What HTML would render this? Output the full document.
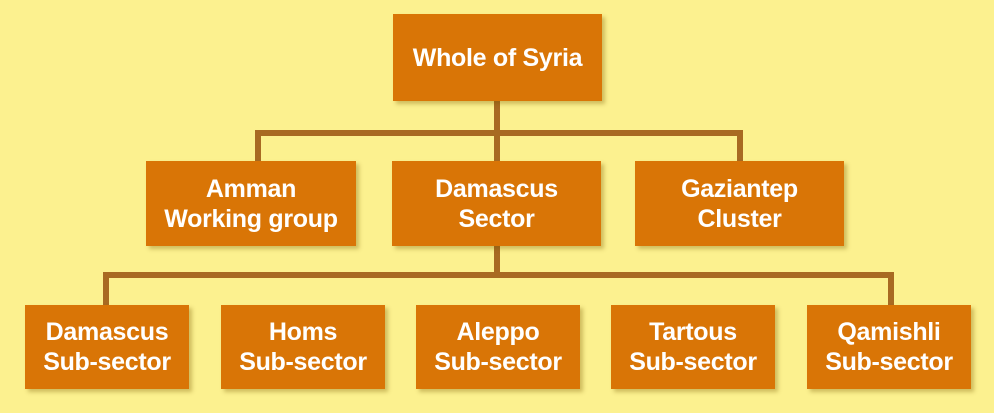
<!DOCTYPE html>
<html><head><style>
body{margin:0;width:994px;height:413px;background:#fcf18f;position:relative;overflow:hidden;font-family:"Liberation Sans",sans-serif}
.b{position:absolute;background:#d97506;color:#fff;font-weight:bold;font-size:25px;line-height:30px;display:flex;align-items:center;justify-content:center;text-align:center;box-shadow:3px 3px 4px rgba(120,90,0,.35);letter-spacing:-0.3px}
.b span{position:relative;top:0px}
.l{position:absolute;background:#a86a22}
</style></head><body>
<div class="l" style="left:494px;top:100px;width:6px;height:62px"></div>
<div class="l" style="left:255px;top:130px;width:488px;height:6px"></div>
<div class="l" style="left:255px;top:130px;width:6px;height:32px"></div>
<div class="l" style="left:737px;top:130px;width:6px;height:32px"></div>
<div class="l" style="left:494px;top:245px;width:6px;height:32px"></div>
<div class="l" style="left:103px;top:272px;width:791px;height:6px"></div>
<div class="l" style="left:103px;top:272px;width:6px;height:34px"></div>
<div class="l" style="left:888px;top:272px;width:6px;height:34px"></div>
<div class="b" style="left:393px;top:14px;width:209px;height:87px"><span>Whole of Syria</span></div>
<div class="b" style="left:146px;top:161px;width:210px;height:85px"><span>Amman<br>Working group</span></div>
<div class="b" style="left:392px;top:161px;width:209px;height:85px"><span>Damascus<br>Sector</span></div>
<div class="b" style="left:635px;top:161px;width:209px;height:85px"><span>Gaziantep<br>Cluster</span></div>
<div class="b" style="left:25px;top:305px;width:164px;height:84px"><span>Damascus<br>Sub-sector</span></div>
<div class="b" style="left:221px;top:305px;width:164px;height:84px"><span>Homs<br>Sub-sector</span></div>
<div class="b" style="left:416px;top:305px;width:164px;height:84px"><span>Aleppo<br>Sub-sector</span></div>
<div class="b" style="left:611px;top:305px;width:164px;height:84px"><span>Tartous<br>Sub-sector</span></div>
<div class="b" style="left:807px;top:305px;width:164px;height:84px"><span>Qamishli<br>Sub-sector</span></div>
</body></html>
